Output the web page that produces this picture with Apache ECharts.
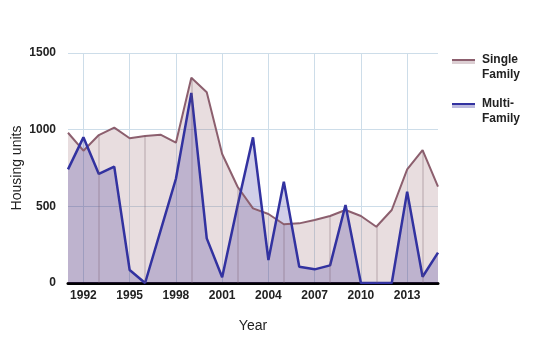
<!DOCTYPE html>
<html>
<head>
<meta charset="utf-8">
<script src="https://cdn.jsdelivr.net/npm/echarts@6/dist/echarts.min.js"></script>
<style>html,body{margin:0;padding:0;background:#fff}#c{width:550px;height:350px}</style>
</head>
<body>
<div id="c"></div>
<script>
var years = [1991,1992,1993,1994,1995,1996,1997,1998,1999,2000,2001,2002,2003,2004,2005,2006,2007,2008,2009,2010,2011,2012,2013,2014,2015];
var singleFamily = [980,863,965,1013,944,959,967,915,1339,1244,841,628,487,450,383,389,411,437,476,437,367,476,741,867,628];
var multiFamily = [741,950,711,759,85,0,340,680,1240,291,37,505,950,150,661,106,89,115,509,0,0,0,596,41,198];
var yTicks = [0,500,1000,1500];
var xTickYears = [1992,1995,1998,2001,2004,2007,2010,2013];

var FONT = 'Liberation Sans, Arial, sans-serif';
var singleLine = '#8c5f6e', singleFill = 'rgba(145,95,105,0.30)';
var multiLine = '#3232a0', multiFill = 'rgba(10,0,135,0.27)';
var gridBlue = '#cddde9';

function pairs(vals){ return years.map(function(y,i){ return [y, vals[i]]; }); }
var minorYears = years.filter(function(y){ return (y - 1993) % 3 === 0; });
var minorLines = minorYears.map(function(y){
  return [{ coord: [y, 0] }, { coord: [y, singleFamily[years.indexOf(y)]] }];
});

function legendName(n){ return n === 'Single Family' ? ' \nSingle\nFamily' : ' \nMulti-\nFamily'; }
var legendBase = {
  orient: 'vertical', left: 452, icon: 'rect', itemWidth: 23, itemGap: -1, padding: 0,
  selectedMode: false,
  formatter: legendName,
  textStyle: { fontFamily: FONT, fontSize: 12, fontWeight: 'bold', color: '#222', lineHeight: 15, padding: [0,0,0,2] }
};
var legendLines = Object.assign({}, legendBase, {
  top: 37.5, itemHeight: 2,
  data: [{name:'Single Family', itemStyle:{color: singleLine}}, {name:'Multi-Family', itemStyle:{color: multiLine}}]
});
var legendFills = Object.assign({}, legendBase, {
  top: 40, itemHeight: 3,
  data: [{name:'Single Family', itemStyle:{color: '#dccfd3'}}, {name:'Multi-Family', itemStyle:{color: '#bcbade'}}],
  textStyle: Object.assign({}, legendBase.textStyle, {color: 'rgba(0,0,0,0)'})
});

var chart = echarts.init(document.getElementById('c'), null, {renderer: 'canvas'});
chart.setOption({
  animation: false,
  backgroundColor: '#fff',
  grid: { left: 68, right: 112, top: 53, bottom: 67, containLabel: false, outerBoundsMode: 'none' },
  legend: [legendFills, legendLines],
  xAxis: {
    type: 'value', min: years[0], max: years[years.length-1], interval: 1,
    name: 'Year', nameLocation: 'middle', nameGap: 36, nameMoveOverlap: false,
    nameTextStyle: { fontFamily: FONT, fontSize: 14, color: '#222' },
    axisLine: { show: true, onZero: true, lineStyle: { color: '#000', width: 3 } },
    axisTick: { show: false },
    axisLabel: {
      margin: 7, fontFamily: FONT, fontSize: 12, fontWeight: 'bold', color: '#222',
      formatter: function(v){ return xTickYears.indexOf(v) >= 0 ? String(v) : ''; }
    },
    splitLine: { show: true, lineStyle: { color: ['rgba(0,0,0,0)', gridBlue, 'rgba(0,0,0,0)'], width: 1 } }
  },
  yAxis: {
    type: 'value', min: yTicks[0], max: yTicks[yTicks.length-1], interval: 500,
    name: 'Housing units', nameLocation: 'middle', nameGap: 44, nameMoveOverlap: false,
    nameTextStyle: { fontFamily: FONT, fontSize: 14, color: '#222' },
    axisLine: { show: false }, axisTick: { show: false },
    axisLabel: { margin: 12, fontFamily: FONT, fontSize: 12, fontWeight: 'bold', color: '#222',
      formatter: function(v){ return String(v); } },
    splitLine: { show: true, lineStyle: { color: gridBlue, width: 1 } }
  },
  series: [
    {
      type: 'line', name: 'Single Family', data: pairs(singleFamily), symbol: 'none',
      lineStyle: { color: singleLine, width: 2 }, itemStyle: { color: singleLine },
      areaStyle: { color: singleFill },
      markLine: {
        silent: true, symbol: 'none', label: { show: false }, animation: false,
        lineStyle: { color: 'rgba(120,85,100,0.28)', width: 1.5, type: 'solid' },
        data: minorLines
      }
    },
    {
      type: 'line', name: 'Multi-Family', data: pairs(multiFamily), symbol: 'none',
      lineStyle: { color: multiLine, width: 2.5 }, itemStyle: { color: multiLine },
      areaStyle: { color: multiFill }
    }
  ]
});
</script>
</body>
</html>
